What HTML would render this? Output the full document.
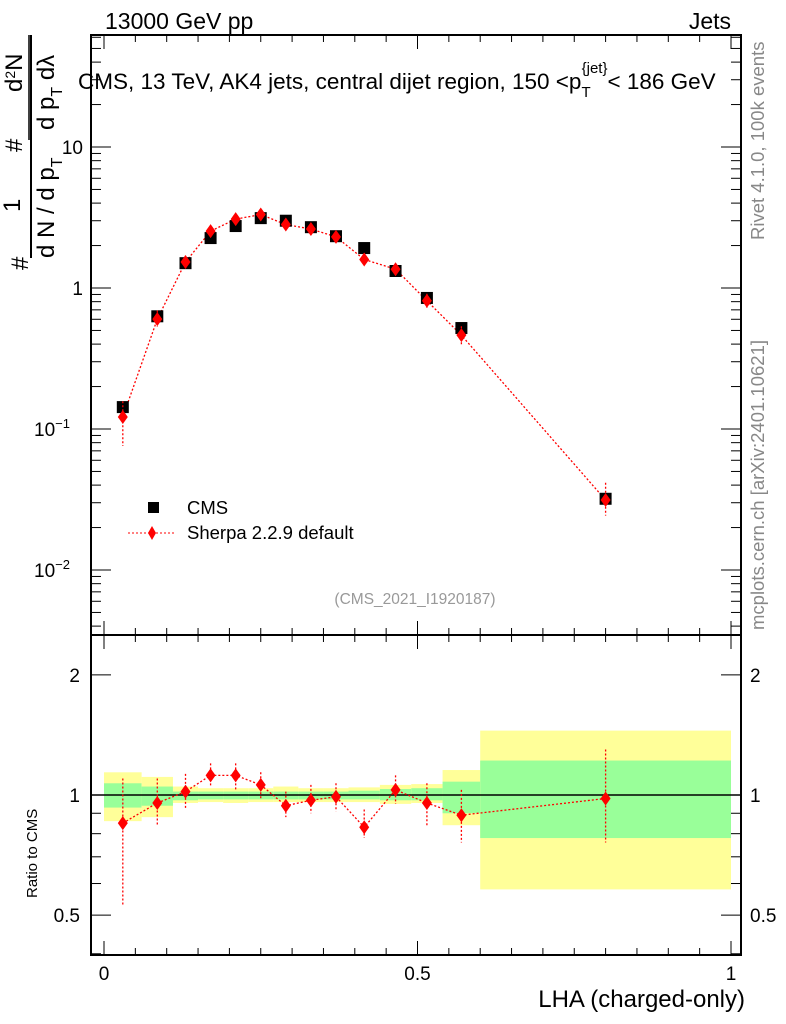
<!DOCTYPE html>
<html><head><meta charset="utf-8"><style>
html,body{margin:0;padding:0;background:#fff;}
svg{display:block;font-family:"Liberation Sans",sans-serif;}
</style></head><body>
<svg id="chart" width="786" height="1024" viewBox="0 0 786 1024">
<g id="ratioBands"></g>
<g id="axes"></g>
<g id="series"></g>
<text x="105" y="29" font-size="23">13000 GeV pp</text>
<text x="731" y="29" font-size="23" text-anchor="end">Jets</text>
<text x="78" y="89" font-size="22.5">CMS, 13 TeV, AK4 jets, central dijet region, 150 &lt;p<tspan font-size="15" dy="8">T</tspan><tspan font-size="15" dy="-24" dx="-9">{jet}</tspan><tspan dy="16">&lt; 186 GeV</tspan></text>
<text x="415" y="604" font-size="15.5" fill="#999" text-anchor="middle">(CMS_2021_I1920187)</text>
<text transform="translate(764,240) rotate(-90)" font-size="18.5" fill="#888">Rivet 4.1.0,  100k events</text>
<text transform="translate(764,630) rotate(-90)" font-size="18.5" fill="#888">mcplots.cern.ch [arXiv:2401.10621]</text>
<g font-size="24">
<text transform="translate(28,270) rotate(-90)">#</text>
<text transform="translate(20,212) rotate(-90)">1</text>
<line x1="31" y1="258" x2="31" y2="35" stroke="#000" stroke-width="2"/>
<text transform="translate(54,258) rotate(-90)">d N / d p<tspan font-size="16" dy="8">T</tspan></text>
<text transform="translate(22,152) rotate(-90)">#</text>
<text transform="translate(22,92) rotate(-90)">d<tspan font-size="14" dy="-7">2</tspan><tspan dy="7">N</tspan></text>
<line x1="29" y1="140" x2="29" y2="35" stroke="#000" stroke-width="1.5"/>
<text transform="translate(54,130) rotate(-90)">d p<tspan font-size="16" dy="8">T</tspan><tspan dy="-8"> dλ</tspan></text>
</g>
<text transform="translate(37,898) rotate(-90)" font-size="15">Ratio to CMS</text>
<text x="745" y="1007" font-size="24" text-anchor="end">LHA (charged-only)</text>
<g>
<rect x="148" y="502" width="11" height="11" fill="#000"/>
<text x="187" y="514" font-size="18.5">CMS</text>
<line x1="128" y1="533" x2="176" y2="533" stroke="red" stroke-dasharray="2,2"/>
<path d="M152,526 L156,533 L152,540 L148,533 Z" fill="red"/>
<text x="187" y="539" font-size="18.5">Sherpa 2.2.9 default</text>
</g>
</svg>
<script>
const binLo = [0,0.06,0.11,0.15,0.19,0.23,0.27,0.31,0.35,0.39,0.44,0.49,0.54,0.6];
const binHi = [0.06,0.11,0.15,0.19,0.23,0.27,0.31,0.35,0.39,0.44,0.49,0.54,0.6,1.0];
const cmsValues = [0.143,0.63,1.5,2.26,2.75,3.13,3.0,2.7,2.33,1.92,1.32,0.85,0.52,0.032];
const sherpaRatio = [0.85,0.955,1.02,1.12,1.12,1.06,0.94,0.97,0.99,0.83,1.03,0.955,0.89,0.98];
const sherpaRatioLo = [0.53,0.84,0.92,1.05,1.03,0.97,0.88,0.9,0.91,0.78,0.95,0.83,0.76,0.76];
const sherpaRatioHi = [1.1,1.1,1.13,1.2,1.2,1.14,1.02,1.06,1.07,0.92,1.12,1.07,1.03,1.3];
const bandYellowHi = [1.14,1.11,1.05,1.04,1.04,1.04,1.05,1.04,1.04,1.045,1.06,1.065,1.155,1.45];
const bandYellowLo = [0.86,0.88,0.955,0.96,0.955,0.96,0.96,0.96,0.96,0.96,0.95,0.955,0.84,0.58];
const bandGreenHi = [1.07,1.05,1.02,1.02,1.02,1.02,1.02,1.02,1.02,1.025,1.035,1.04,1.08,1.22];
const bandGreenLo = [0.93,0.94,0.97,0.975,0.975,0.975,0.975,0.975,0.975,0.975,0.97,0.97,0.9,0.78];
const mainYTicks = [10,1,0.1,0.01];
const mainYLabels = ["10","1","10<tspan font-size='13' dy='-8'>−1</tspan>","10<tspan font-size='13' dy='-8'>−2</tspan>"];
const ratioYTicks = [2,1,0.5];
const ratioYLabels = ["2","1","0.5"];
const xTicks = [0,0.5,1];
const xLabels = ["0","0.5","1"];

const NS="http://www.w3.org/2000/svg";
const L=91,R=741,T=35,MB=635,RB=955;
const X=v=>104+v*627;
const Y=v=>288-141*Math.log10(v);
const YR=v=>795-399*Math.log10(v);
function mk(tag,attrs,parent){const e=document.createElementNS(NS,tag);for(const k in attrs)e.setAttribute(k,attrs[k]);parent.appendChild(e);return e;}
const bands=document.getElementById('ratioBands'),axes=document.getElementById('axes'),ser=document.getElementById('series');

binLo.forEach((lo,i)=>{
  let r=mk('rect',{x:X(lo),y:YR(bandYellowHi[i]),width:X(binHi[i])-X(lo),height:YR(bandYellowLo[i])-YR(bandYellowHi[i]),fill:'#ffff99'},bands);
  
  
  let g=mk('rect',{x:X(lo),y:YR(bandGreenHi[i]),width:X(binHi[i])-X(lo),height:YR(bandGreenLo[i])-YR(bandGreenHi[i]),fill:'#99ff99'},bands);
  
  
});

let f1=mk('rect',{x:L,y:T,width:R-L,height:MB-T,fill:'none',stroke:'#000','stroke-width':2},axes);


let f2=mk('rect',{x:L,y:MB,width:R-L,height:RB-MB,fill:'none',stroke:'#000','stroke-width':2},axes);


let ref=mk('line',{x1:L,x2:R,y1:YR(1),y2:YR(1),stroke:'#000','stroke-width':1.5},axes);



for(let v=0;v<=1.0001;v+=0.05){
  const big=Math.abs(v*10-Math.round(v*10))<1e-6 && Math.round(v*10)%5===0;
  const len=big?14:7;
  [[T,1],[MB,-1],[MB,1],[RB,-1]].forEach(([y,d])=>mk('line',{x1:X(v),x2:X(v),y1:y,y2:y+d*len,stroke:'#000'},axes));
}
xTicks.forEach((v,i)=>{let t=mk('text',{x:X(v),y:980,'font-size':19,'text-anchor':'middle'},axes);t.textContent=xLabels[i];

});

for(let d=-3;d<=1;d++)for(let m=1;m<=9;m++){
  const v=m*Math.pow(10,d);const y=Y(v);if(y<T||y>MB)continue;
  const len=m===1?20:10;
  mk('line',{x1:L,x2:L+len,y1:y,y2:y,stroke:'#000'},axes);
  mk('line',{x1:R,x2:R-len,y1:y,y2:y,stroke:'#000'},axes);
}
mainYTicks.forEach((v,i)=>{let t=mk('text',{x:83,y:Y(v)+7,'font-size':19,'text-anchor':'end'},axes);t.innerHTML=mainYLabels[i];
if(i>=2){t.setAttribute('x',70);}

});

for(let d=-1;d<=0;d++)for(let m=1;m<=9;m++){
  const v=m*Math.pow(10,d);const y=YR(v);if(y<MB||y>RB)continue;
  const len=(v===1||v===2||v===0.5)?20:10;
  mk('line',{x1:L,x2:L+len,y1:y,y2:y,stroke:'#000'},axes);
  mk('line',{x1:R,x2:R-len,y1:y,y2:y,stroke:'#000'},axes);
}
ratioYTicks.forEach((v,i)=>{
  let t=mk('text',{x:80,y:YR(v)+7,'font-size':19,'text-anchor':'end'},axes);t.textContent=ratioYLabels[i];
  
  
  let t2=mk('text',{x:750,y:YR(v)+7,'font-size':19},axes);t2.textContent=ratioYLabels[i];
  
  
});

function diamond(x,y,parent,name){
  let p=mk('path',{d:`M${x},${y-7} L${x+5},${y} L${x},${y+7} L${x-5},${y} Z`,fill:'red'},parent);
  
  
}
const centers=binLo.map((lo,i)=>(lo+binHi[i])/2);
let pts=centers.map((c,i)=>X(c)+','+Y(cmsValues[i]*sherpaRatio[i])).join(' ');
let pl=mk('polyline',{points:pts,fill:'none',stroke:'red','stroke-width':1.3,'stroke-dasharray':'2,2'},ser);


let pts2=centers.map((c,i)=>X(c)+','+YR(sherpaRatio[i])).join(' ');
let pl2=mk('polyline',{points:pts2,fill:'none',stroke:'red','stroke-width':1.3,'stroke-dasharray':'2,2'},ser);



centers.forEach((c,i)=>{
  const x=X(c);
  let s=mk('rect',{x:x-6,y:Y(cmsValues[i])-6,width:12,height:12,fill:'#000'},ser);
  
  
  const sv=cmsValues[i];
  let e=mk('line',{x1:x,x2:x,y1:Y(sv*sherpaRatioHi[i]),y2:Y(sv*sherpaRatioLo[i]),stroke:'red','stroke-width':1.3,'stroke-dasharray':'2,2'},ser);
  
  
  diamond(x,Y(sv*sherpaRatio[i]),ser,'sherpa-point');
  let e2=mk('line',{x1:x,x2:x,y1:YR(sherpaRatioHi[i]),y2:YR(sherpaRatioLo[i]),stroke:'red','stroke-width':1.3,'stroke-dasharray':'2,2'},ser);
  
  
  diamond(x,YR(sherpaRatio[i]),ser,'sherpa-ratio-point');
});
</script>
</body></html>
